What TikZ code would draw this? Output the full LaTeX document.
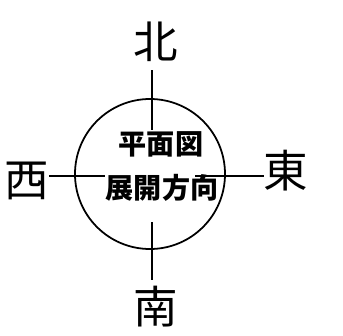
\documentclass[tikz,border=0pt]{standalone}
\usepackage{fontspec}
\newfontfamily\cjk{Noto Sans CJK JP}
\usepackage{tikz}
\tikzstyle{dir}=[font=\cjk\fontsize{38}{38}\selectfont, inner sep=0pt]
\tikzstyle{inner}=[font=\cjk\bfseries\fontsize{24}{24}\selectfont, inner sep=0pt]
\tikzstyle{line}=[line width=1.5pt]

\begin{document}
\begin{tikzpicture}[x=0.03cm,y=-0.03cm]
        \useasboundingbox (0,0) rectangle (343,335);
        \node[draw, circle, line width=1.5pt, minimum size=150*0.03cm] (c) at (150,174) {};
        \node[dir] (n) at (156,42) {北};
        \node[dir] (s) at (156,307) {南};
        \node[dir] (w) at (27,181) {西};
        \node[dir] (e) at (286,171) {東};
        \node[inner] (p) at (161,144) {平面図};
        \node[inner] (t) at (162,188) {展開方向};
        \coordinate (n0) at (152,70);
        \coordinate (n1) at (152,130);
        \coordinate (s0) at (152,280);
        \coordinate (s1) at (152,222);
        \coordinate (w1) at (105,176);
        \coordinate (e1) at (195,176);
        \draw[line] (n0) -- (n1);
        \draw[line] (s1) -- (s0);
        \draw[line] (w.east |- w1) -- (w1);
        \draw[line] (e1) -- (e.west |- e1);
      \end{tikzpicture}
\end{document}
